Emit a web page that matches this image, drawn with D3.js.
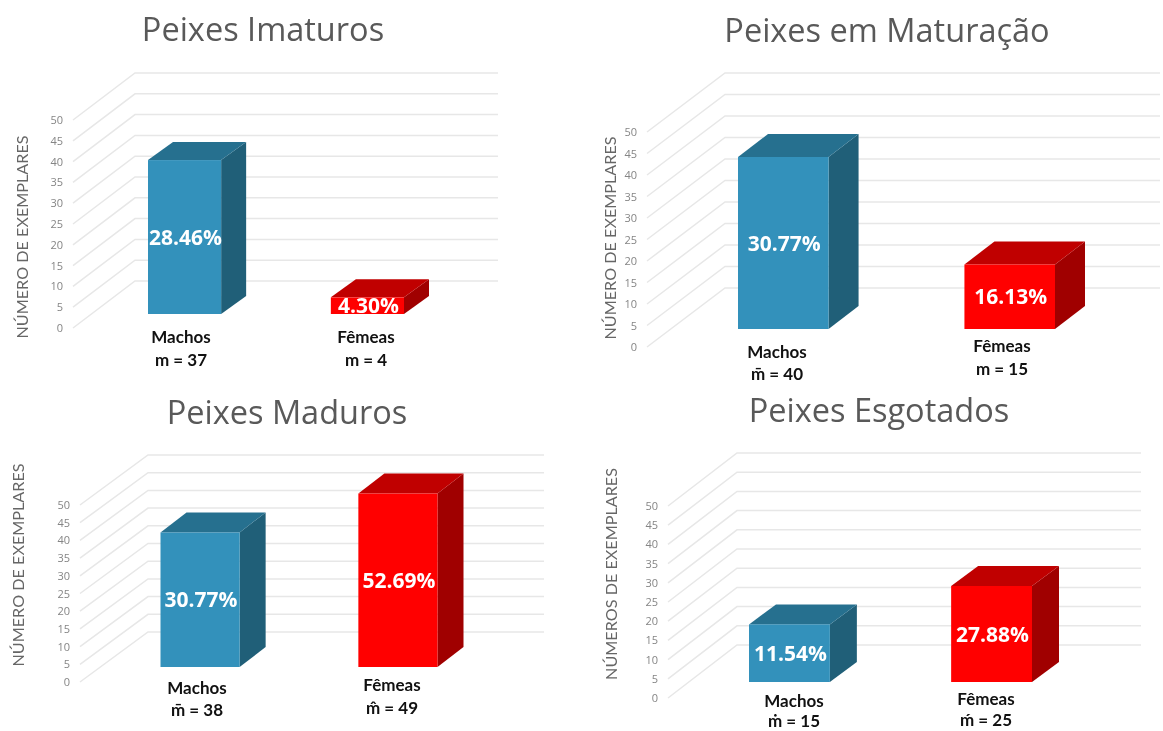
<!DOCTYPE html>
<html>
<head>
<meta charset="utf-8">
<title>Peixes</title>
<script src="https://d3js.org/d3.v7.min.js"></script>
<style>
  html, body { margin: 0; padding: 0; background: #fff; }
  svg { display: block; font-family: "Open Sans", sans-serif; filter: blur(0.5px); }
  .grid { fill: none; stroke: #e7e7e7; stroke-width: 1.5; }
  .title { fill: #595959; font-size: 32.5px; text-anchor: middle; }
  .ytitle { fill: #666; font-family: Lato, sans-serif; font-size: 16.2px; text-anchor: middle; }
  .cat { fill: #111; font-family: Lato, sans-serif; font-size: 17px; font-weight: 700; text-anchor: middle; }
  .val { fill: #fff; font-size: 21px; font-weight: 700; text-anchor: middle; }
  .tick text { fill: #858585; font-size: 11px; font-family: "Open Sans", sans-serif; }
</style>
</head>
<body>
<script>

// values
var titles = ["Peixes Imaturos", "Peixes em Maturação", "Peixes Maduros", "Peixes Esgotados"];
var yTitles = ["NÚMERO DE EXEMPLARES", "NÚMERO DE EXEMPLARES", "NÚMERO DE EXEMPLARES", "NÚMEROS DE EXEMPLARES"];
var categories = ["Machos", "Fêmeas"];
var yTicks = [0, 5, 10, 15, 20, 25, 30, 35, 40, 45, 50];
var counts = [[37, 4], [40, 15], [38, 49], [15, 25]];
var percents = [["28.46%", "4.30%"], ["30.77%", "16.13%"], ["30.77%", "52.69%"], ["11.54%", "27.88%"]];
var meanLabels = [["m = 37", "m = 4"], ["m\u0304 = 40", "m = 15"], ["m\u0304 = 38", "m\u0302 = 49"], ["m\u0307 = 15", "m\u0301 = 25"]];

// where each of the four pictures sits on the page
var frames = [
  {titleX: 263, titleY: 41, frontX: 73, backX: 135, rightX: 498, y0: 328, y50: 120, backDy: 47,
   barLeft: 148, barRight: 404, barDx: 25, barDy: 18, floorDy: 14,
   yTitleX: 28, yTitleY: 237, catX: [181, 366], catY: [343, 343], meanY: [366, 366]},
  {titleX: 887, titleY: 42, frontX: 647, backX: 725, rightX: 1160, y0: 347, y50: 132, backDy: 59,
   barLeft: 738, barRight: 1055, barDx: 30, barDy: 23, floorDy: 18,
   yTitleX: 616, yTitleY: 238, catX: [777, 1002], catY: [358, 352], meanY: [380, 375]},
  {titleX: 287, titleY: 424, frontX: 80, backX: 148, rightX: 544, y0: 682, y50: 505, backDy: 50,
   barLeft: 160.5, barRight: 437.5, barDx: 26, barDy: 20, floorDy: 15,
   yTitleX: 24, yTitleY: 565, catX: [197, 392], catY: [694, 691], meanY: [716, 714]},
  {titleX: 879, titleY: 422, frontX: 668, backX: 737, rightX: 1141, y0: 698, y50: 506, backDy: 53,
   barLeft: 749, barRight: 1032, barDx: 27, barDy: 20, floorDy: 16,
   yTitleX: 617, yTitleY: 574, catX: [794, 986], catY: [707, 705], meanY: [727, 726]}
];

var barColors = [
  {front: "#3391bb", top: "#26708f", side: "#205f78"},
  {front: "#ff0000", top: "#c00000", side: "#a00000"}
];

var svg = d3.select("body").append("svg")
    .attr("width", 1163)
    .attr("height", 731);

frames.forEach(function(f, i) {
  var g = svg.append("g");

  var y = d3.scaleLinear().domain([0, 50]).range([f.y0, f.y50]);
  var x = d3.scaleBand()
      .domain(categories)
      .range([f.barLeft, f.barRight])
      .paddingInner(0.6)
      .paddingOuter(0);
  // the bars stand part of the way into the floor
  var base = function(v) { return y(v) - f.floorDy; };

  g.append("text").attr("class", "title")
      .attr("x", f.titleX).attr("y", f.titleY)
      .text(titles[i]);

  // side wall and back wall lines
  g.selectAll(".grid")
    .data(yTicks)
    .enter().append("path")
      .attr("class", "grid")
      .attr("d", function(d) {
        var p = d3.path();
        p.moveTo(f.frontX, y(d));
        p.lineTo(f.backX, y(d) - f.backDy);
        p.lineTo(f.rightX, y(d) - f.backDy);
        return p.toString();
      });

  g.append("g")
      .attr("transform", "translate(" + f.frontX + ",0)")
      .call(d3.axisLeft(y).tickValues(yTicks).tickSize(0).tickPadding(10))
      .call(function(a) { a.select(".domain").remove(); });

  g.append("text").attr("class", "ytitle")
      .attr("transform", "translate(" + f.yTitleX + "," + f.yTitleY + ") rotate(-90)")
      .text(yTitles[i]);

  counts[i].forEach(function(v, j) {
    var left = x(categories[j]), right = left + x.bandwidth();
    var c = barColors[j];
    var bottom = base(0), top = base(v);

    g.append("path").attr("fill", c.side)
        .attr("d", d3.line()([[right, top], [right + f.barDx, top - f.barDy], [right + f.barDx, bottom - f.barDy], [right, bottom]]) + "Z");
    g.append("path").attr("fill", c.top)
        .attr("d", d3.line()([[left, top], [left + f.barDx, top - f.barDy], [right + f.barDx, top - f.barDy], [right, top]]) + "Z");
    g.append("rect").attr("fill", c.front)
        .attr("x", left).attr("y", top)
        .attr("width", x.bandwidth()).attr("height", bottom - top);

    g.append("text").attr("class", "val")
        .attr("x", (left + right) / 2 + 1)
        .attr("y", (top + bottom) / 2)
        .attr("dy", "0.36em")
        .text(percents[i][j]);

    g.append("text").attr("class", "cat")
        .attr("x", f.catX[j]).attr("y", f.catY[j])
        .text(categories[j]);
    g.append("text").attr("class", "cat")
        .attr("x", f.catX[j]).attr("y", f.meanY[j])
        .text(meanLabels[i][j]);
  });
});

</script>
</body>
</html>
